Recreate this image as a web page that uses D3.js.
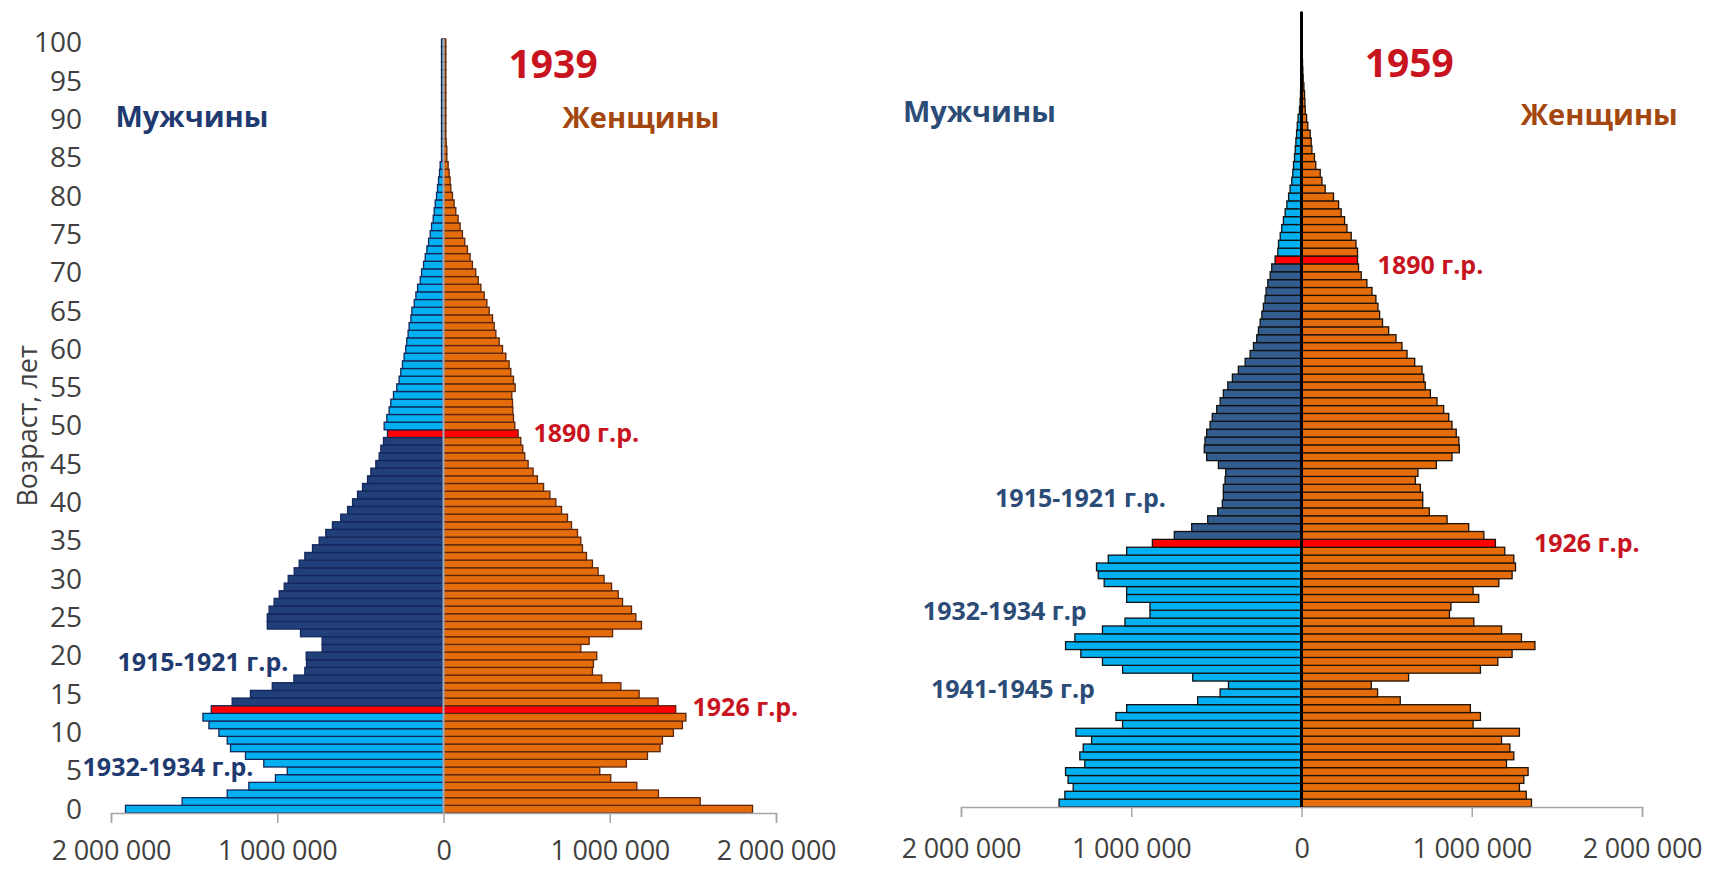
<!DOCTYPE html>
<html>
<head>
<meta charset="utf-8">
<title>Возрастные пирамиды 1939 и 1959</title>
<script src="https://cdn.jsdelivr.net/npm/d3@7"></script>
<style>
  body { margin: 0; background: #fff; }
  text { font-family: "Open Sans", "Noto Sans", sans-serif; }
  .tick text { font-size: 27px; fill: #404040; }
  .sex { font-size: 29px; font-weight: bold; }
  .year { font-size: 39px; font-weight: bold; fill: #c8141e; }
  .cohort { font-size: 25px; font-weight: bold; }
</style>
</head>
<body>
<svg width="1714" height="869"></svg>
<script>
// возраст 0..100, значения в тысячах человек
var ages = d3.range(0, 101);

var male1939 = [
  1913, 1572, 1301, 1171, 1011, 940, 1081, 1191, 1281, 1301,
  1351, 1411, 1447, 1397, 1271, 1161, 1030, 900, 834, 824,
  826, 730, 730, 860, 1060, 1060, 1049, 1019, 988, 958,
  934, 898, 868, 834, 788, 748, 708, 668, 618, 577,
  547, 517, 487, 457, 437, 407, 387, 377, 361, 337,
  357, 341, 327, 317, 301, 281, 267, 257, 247, 237,
  227, 221, 213, 207, 196, 190, 176, 166, 156, 140,
  132, 120, 110, 100, 90, 80, 72, 62, 56, 50,
  42, 36, 30, 24, 20, 12, 12, 12, 12, 12,
  12, 12, 12, 12, 12, 12, 12, 12, 12, 12, 12
];
var female1939 = [
  1859, 1544, 1293, 1163, 1006, 940, 1100, 1227, 1303, 1317,
  1383, 1437, 1458, 1397, 1291, 1177, 1067, 952, 896, 902,
  922, 826, 876, 1017, 1191, 1157, 1131, 1077, 1051, 1011,
  966, 930, 896, 860, 836, 826, 806, 770, 746, 710,
  676, 640, 602, 565, 539, 509, 489, 477, 465, 449,
  429, 421, 417, 415, 411, 431, 421, 405, 395, 375,
  355, 335, 315, 305, 295, 275, 261, 245, 225, 209,
  194, 174, 160, 144, 128, 114, 100, 88, 74, 64,
  54, 44, 40, 34, 28, 20, 20, 16, 14, 14,
  14, 14, 14, 14, 14, 14, 14, 14, 14, 14, 14
];
var male1959 = [
  1424, 1390, 1341, 1371, 1386, 1273, 1302, 1282, 1233, 1325,
  1051, 1090, 1027, 610, 478, 429, 639, 1051, 1169, 1296,
  1386, 1331, 1169, 1037, 890, 890, 1027, 1027, 1159, 1194,
  1204, 1135, 1027, 876, 747, 645, 551, 492, 465, 459,
  459, 449, 445, 488, 557, 571, 567, 557, 537, 524,
  498, 478, 459, 433, 406, 371, 331, 302, 282, 263,
  253, 243, 233, 224, 214, 208, 198, 184, 175, 155,
  139, 135, 125, 116, 106, 96, 86, 76, 67, 57,
  51, 47, 41, 37, 33, 29, 25, 20, 12, 8,
  6, 5, 4, 3, 3, 2, 2, 1, 1, 1, 1
];
var female1959 = [
  1351, 1320, 1280, 1306, 1331, 1204, 1247, 1224, 1175, 1280,
  1008, 1051, 992, 580, 447, 410, 629, 1051, 1153, 1237,
  1371, 1292, 1175, 1012, 869, 878, 1041, 1008, 1159, 1237,
  1257, 1247, 1194, 1139, 1071, 982, 855, 751, 712, 712,
  698, 669, 684, 792, 884, 927, 924, 909, 884, 865,
  835, 796, 757, 727, 718, 708, 665, 620, 590, 555,
  512, 476, 459, 449, 437, 414, 384, 351, 335, 329,
  329, 320, 292, 267, 253, 233, 218, 188, 139, 120,
  110, 84, 76, 61, 57, 51, 37, 30, 22, 20,
  18, 14, 10, 8, 6, 4, 3, 2, 1, 1, 1
];

// когорты, выделенные красным, и период "тёмных" когорт между ними
var redBorn = [1890, 1926];

var xTicks = [-2000, -1000, 0, 1000, 2000];
var ageTicks = d3.range(0, 101, 5);

// подписи: значение (тыс.) и возраст, к которым привязан левый край текста
var notes1939 = [
  {text: "1939", value: 391, age: 97.2, cls: "year"},
  {text: "Мужчины", value: -1973, age: 90.4, cls: "sex male"},
  {text: "Женщины", value: 716, age: 90.2, cls: "sex female"},
  {text: "1890 г.р.", value: 541, age: 49.1, cls: "cohort red"},
  {text: "1926 г.р.", value: 1498, age: 13.3, cls: "cohort red"},
  {text: "1915-1921 г.р.", value: -1961, age: 19.2, cls: "cohort male"},
  {text: "1932-1934 г.р.", value: -2171, age: 5.5, cls: "cohort male"}
];
var notes1959 = [
  {text: "1959", value: 371, age: 94.0, cls: "year"},
  {text: "Мужчины", value: -2341, age: 87.8, cls: "sex male"},
  {text: "Женщины", value: 1288, age: 87.5, cls: "sex female"},
  {text: "1890 г.р.", value: 447, age: 68.3, cls: "cohort red"},
  {text: "1926 г.р.", value: 1365, age: 33.0, cls: "cohort red"},
  {text: "1915-1921 г.р.", value: -1800, age: 38.7, cls: "cohort male"},
  {text: "1932-1934 г.р", value: -2224, age: 24.4, cls: "cohort male"},
  {text: "1941-1945 г.р", value: -2176, age: 14.5, cls: "cohort male"}
];

var svg = d3.select("svg");
var fmt = d3.formatLocale({decimal: ",", thousands: " ", grouping: [3], currency: ["", ""]}).format(",");

function pyramid(o) {
  var g = svg.append("g");
  var x = d3.scaleLinear().domain([-2000, 2000]).range([o.left, o.right]);
  var y = d3.scaleLinear().domain([-0.5, 100.5]).range([o.bottom, o.top]);

  var rows = ages.map(function(a, i) {
    var born = o.year - a;
    var kind = redBorn.indexOf(born) >= 0 ? "red" : (born > redBorn[0] && born < redBorn[1] ? "dark" : "light");
    return {age: a, m: o.male[i], f: o.female[i], kind: kind};
  });

  // мужчины - влево
  g.append("g").selectAll("rect").data(rows).enter().append("rect")
    .attr("x", function(d) { return x(-d.m); })
    .attr("y", function(d) { return y(d.age + 0.5); })
    .attr("width", function(d) { return x(0) - x(-d.m); })
    .attr("height", function(d) { return y(d.age - 0.5) - y(d.age + 0.5); })
    .attr("fill", function(d) { return o.maleFill[d.kind]; })
    .attr("stroke", o.maleStroke)
    .attr("stroke-width", 1.3);

  // женщины - вправо
  g.append("g").selectAll("rect").data(rows).enter().append("rect")
    .attr("x", x(0))
    .attr("y", function(d) { return y(d.age + 0.5); })
    .attr("width", function(d) { return x(d.f) - x(0); })
    .attr("height", function(d) { return y(d.age - 0.5) - y(d.age + 0.5); })
    .attr("fill", function(d) { return d.kind == "red" ? "#ff0000" : "#e46c0a"; })
    .attr("stroke", o.femaleStroke)
    .attr("stroke-width", 1.3);

  // ось X
  var xa = g.append("g")
    .attr("transform", "translate(0," + o.bottom + ")")
    .call(d3.axisBottom(x).tickValues(xTicks).tickSize(10).tickSizeOuter(10).tickPadding(o.pad)
      .tickFormat(function(d) { return fmt(Math.abs(d) * 1000); }));
  xa.select(".domain").attr("stroke", "#a6a6a6").attr("stroke-width", 1.5);
  xa.selectAll(".tick line").attr("stroke", "#a6a6a6").attr("stroke-width", 1.5);
  xa.selectAll(".tick text").style("letter-spacing", "-0.3px");

  // центральная вертикальная ось
  g.append("line")
    .attr("x1", x(0)).attr("x2", x(0))
    .attr("y1", o.top).attr("y2", o.bottom)
    .attr("stroke", o.axisColor).attr("stroke-width", o.axisWidth);

  if (o.ageAxis) {
    var ya = g.append("g")
      .attr("transform", "translate(90,0)")
      .call(d3.axisLeft(y).tickValues(ageTicks).tickSize(0).tickPadding(8));
    ya.select(".domain").remove();
    ya.selectAll(".tick text").style("font-size", "28px");
    g.append("text")
      .attr("transform", "translate(37," + y(50) + ") rotate(-90)")
      .attr("text-anchor", "middle")
      .style("font-size", "27px")
      .attr("fill", "#404040")
      .text("Возраст, лет");
  }

  g.append("g").selectAll("text").data(o.notes).enter().append("text")
    .attr("class", function(d) { return d.cls; })
    .attr("x", function(d) { return x(d.value); })
    .attr("y", function(d) { return y(d.age); })
    .attr("dy", "0.36em")
    .attr("fill", function(d) {
      if (d.cls.indexOf("red") >= 0 || d.cls == "year") return "#c8141e";
      if (d.cls.indexOf("female") >= 0) return "#a3470f";
      return o.maleText;
    })
    .text(function(d) { return d.text; });
}

pyramid({
  year: 1939, male: male1939, female: female1939, notes: notes1939,
  left: 111, right: 776, top: 39, bottom: 813, pad: 18,
  maleFill: {light: "#00b0f0", dark: "#213f78", red: "#ff0000"},
  maleStroke: "#14275a", femaleStroke: "#5c260c",
  axisColor: "#a4adbf", axisWidth: 2, maleText: "#1f3a70", ageAxis: true
});

pyramid({
  year: 1959, male: male1959, female: female1959, notes: notes1959,
  left: 961, right: 1642, top: 12, bottom: 807, pad: 22,
  maleFill: {light: "#00b0f0", dark: "#335d8f", red: "#ff0000"},
  maleStroke: "#111111", femaleStroke: "#1e1206",
  axisColor: "#000000", axisWidth: 3, maleText: "#2c4c78", ageAxis: false
});
</script>
</body>
</html>
